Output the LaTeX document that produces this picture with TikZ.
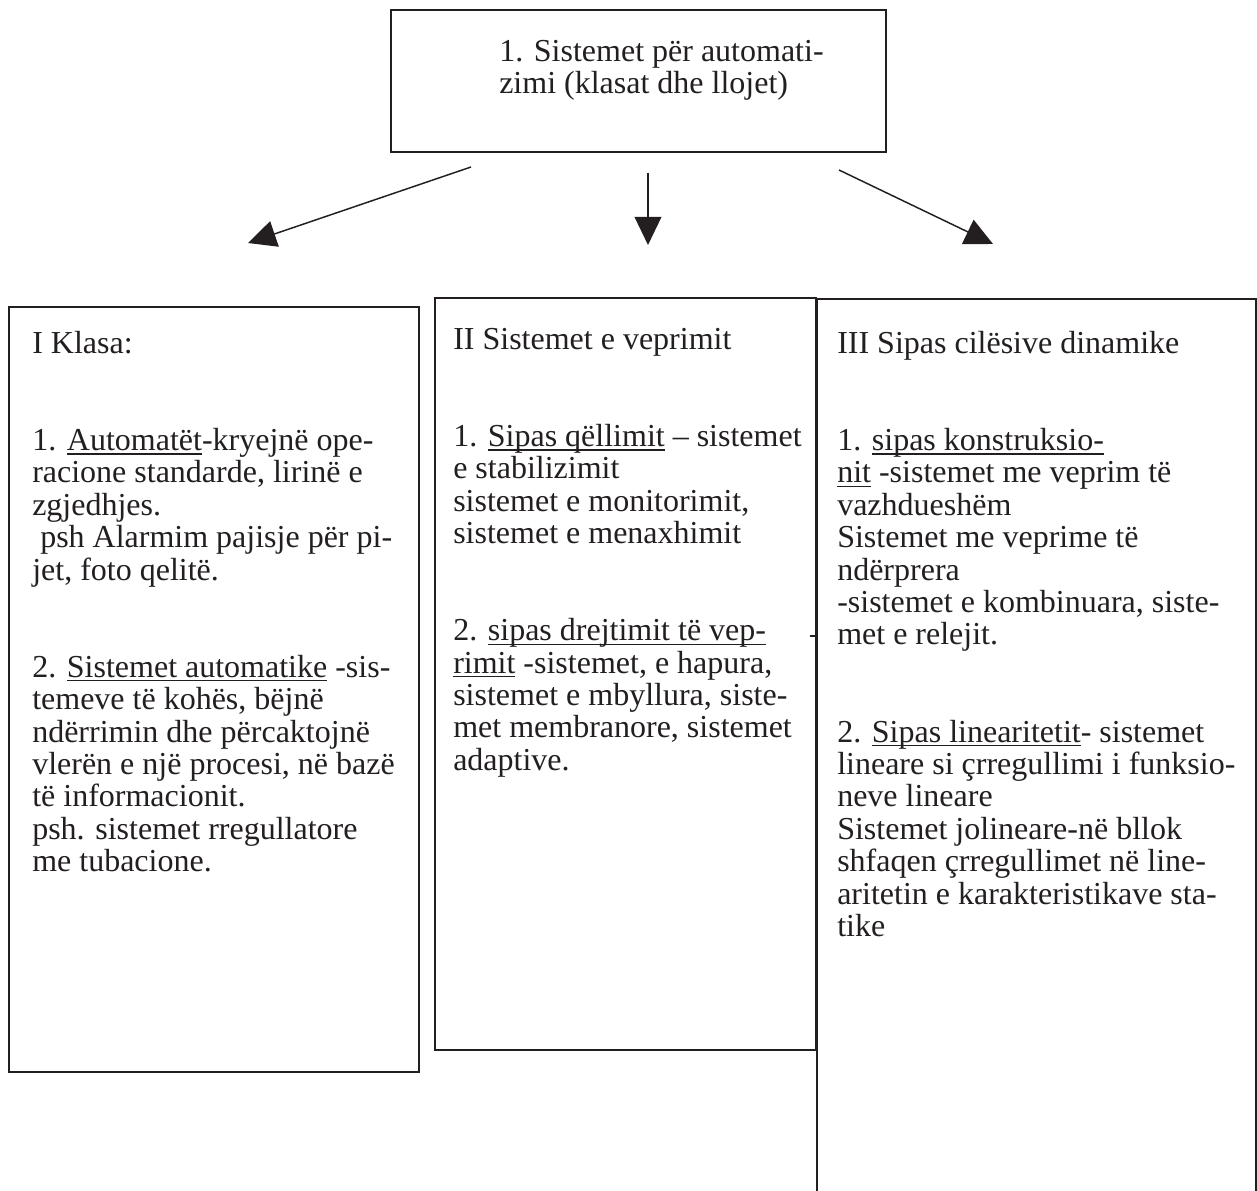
\documentclass[tikz,border=0pt]{standalone}
\usepackage{fontspec}
\setmainfont{Liberation Serif}
\usetikzlibrary{positioning,calc,arrows.meta}
\definecolor{ink}{RGB}{35,31,32}
\newsavebox{\undbox}
\newcommand{\und}[1]{\sbox{\undbox}{#1}\rlap{\rule[-3pt]{\wd\undbox}{0.8pt}}\usebox{\undbox}}
\newcommand{\gap}{\\[48.5pt]}

\begin{document}
\begin{tikzpicture}[x=0.75pt,y=-0.75pt,>=Stealth,
        frame/.style={draw=ink, line width=1.5pt, inner sep=0pt, anchor=north west},
        txt/.style={text=ink, align=left, inner sep=0pt, anchor=north west,
                    font=\fontsize{24}{24.3}\selectfont},
        arr/.style={draw=ink, line width=1.1pt, -{Triangle[length=21pt,width=20pt]}}]

\useasboundingbox (0,0) rectangle (1257,1191);
\fill[white] (0,0) rectangle (1257,1191);

% top box
\node[frame, line width=1.8pt, minimum width=371.25pt, minimum height=106.5pt] (sist) at (390,9) {};
\node[txt] (sisttxt) at (499,40) {1. Sistemet për automati-\\zimi (klasat dhe llojet)};

% the three boxes
\node[frame, minimum width=307.5pt, minimum height=573.75pt] (klasa) at (8,306) {};
\node[frame, minimum width=285.75pt, minimum height=564pt] (veprim) at (434,297) {};
\node[frame, minimum width=329.25pt, minimum height=676.5pt] (dinam) at (816,298) {};

\node[txt] (klasatxt) at (32,331) {I Klasa:\gap
1. \und{Automatët}-kryejnë ope-\\
racione standarde, lirinë e\\
zgjedhjes.\\
\hspace*{6pt}psh Alarmim pajisje për pi-\\
jet, foto qelitë.\gap
2. \und{Sistemet automatike} -sis-\\
temeve të kohës, bëjnë\\
ndërrimin dhe përcaktojnë\\
vlerën e një procesi, në bazë\\
të informacionit.\\
psh. sistemet rregullatore\\
me tubacione.};

\node[txt] (vepr) at (453,328) {II Sistemet e veprimit\gap
1. \und{Sipas qëllimit} -- sistemet\\
e stabilizimit\\
sistemet e monitorimit,\\
sistemet e menaxhimit\gap
2. \und{sipas drejtimit të vep-}\\
\und{rimit} -sistemet, e hapura,\\
sistemet e mbyllura, siste-\\
met membranore, sistemet\\
adaptive.};

\node[txt] (dintxt) at (837,331) {III Sipas cilësive dinamike\gap
1. \und{sipas konstruksio-}\\
\und{nit} -sistemet me veprim të\\
vazhdueshëm\\
Sistemet me veprime të\\
ndërprera\\
-sistemet e kombinuara, siste-\\
met e relejit.\gap
2. \und{Sipas linearitetit}- sistemet\\
lineare si çrregullimi i funksio-\\
neve lineare\\
Sistemet jolineare-në bllok\\
shfaqen çrregullimet në line-\\
aritetin e karakteristikave sta-\\
tike};

% arrows
\coordinate (l0) at (471,167);
\coordinate (l1) at (248,243);
\coordinate (m0) at (648,173);
\coordinate (m1) at (648,245);
\coordinate (r0) at (839,170);
\coordinate (r1) at (993,244);

\draw[arr] (l0) -- (l1);
\draw[arr] (m0) -- (m1);
\draw[arr] (r0) -- (r1);

\draw[ink, line width=1pt] (810,636) -- (815,636);

\end{tikzpicture}
\end{document}
